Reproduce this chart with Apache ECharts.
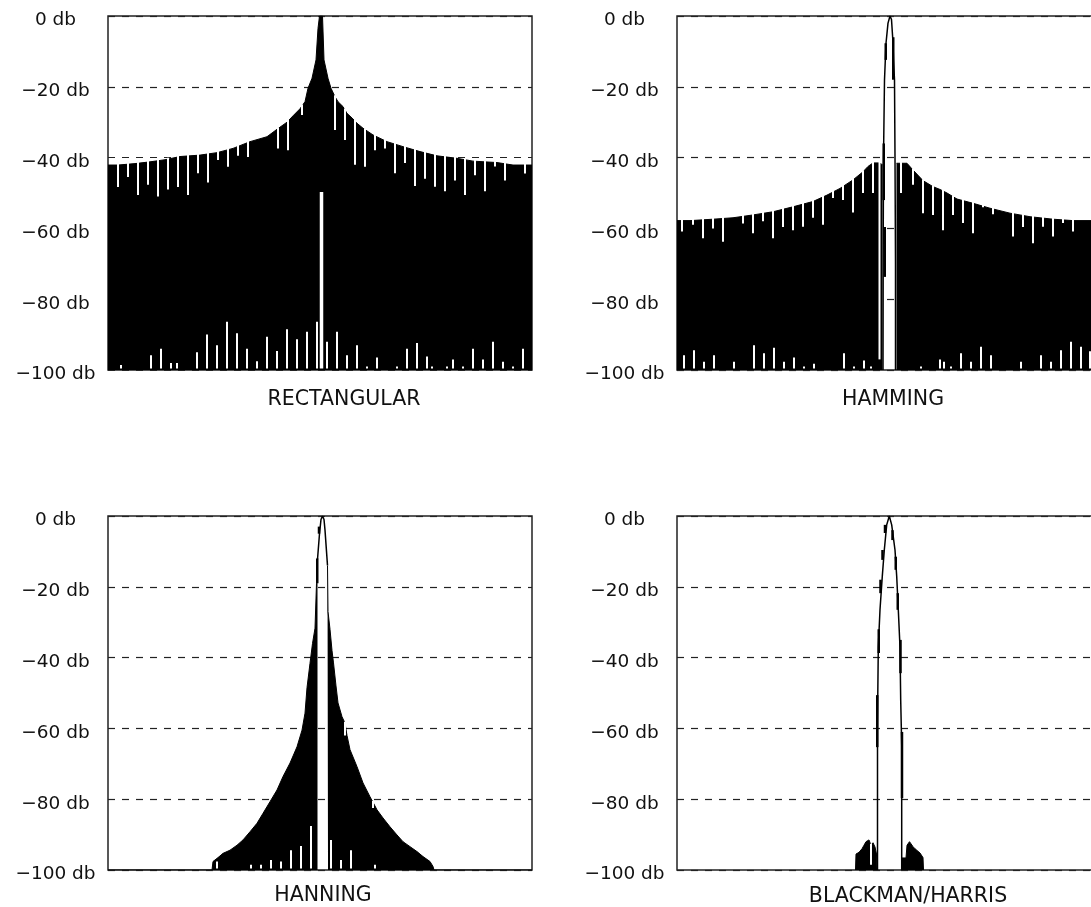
<!DOCTYPE html>
<html><head><meta charset="utf-8">
<script src="https://cdn.jsdelivr.net/npm/echarts@6/dist/echarts.min.js"></script>
<style>html,body{margin:0;padding:0;background:#fff}#c{width:1091px;height:907px}</style>
</head><body><div id="c"></div>
<script>
// ---------- axis / labels ----------
const tickValues = [0, -20, -40, -60, -80, -100];
const tickLabels = ['0 db', '−20 db', '−40 db', '−60 db', '−80 db', '−100 db'];
const panelTitles = ['RECTANGULAR', 'HAMMING', 'HANNING', 'BLACKMAN/HARRIS'];
const binRange = [-42.6, 42.2];   // frequency bins shown

// ---------- RECTANGULAR ----------  [bin, dB]
const rectEnvelope = [[-42.6,-42.1],[-40.6,-42.1],[-37.2,-41.7],[-34.2,-41.2],[-31.2,-40.6],[-28.2,-39.7],[-24.2,-39.3],[-20.8,-38.6],[-17.6,-37.4],[-14.2,-35.5],[-10.8,-34.1],[-8.8,-32.0],[-6.8,-30.0],[-5.6,-28.2],[-4.2,-26.2],[-3.2,-24.2],[-2.6,-20.4],[-1.8,-17.6],[-1.0,-12.4],[-0.6,-3.5],[-0.3,0],[0.3,0],[0.6,-12.4],[1.4,-17.6],[2.0,-20.4],[2.8,-22.8],[3.4,-24.2],[4.4,-25.6],[5.2,-27.5],[6.2,-28.8],[7.2,-30.3],[8.4,-31.7],[10.4,-33.6],[13.2,-35.5],[16.4,-36.9],[19.8,-38.3],[23.2,-39.5],[27.2,-40.2],[30.4,-41.0],[35.2,-41.4],[38.4,-42.1],[42.2,-42.1]];
const rectUpperNulls = [[-40.6,-48.3],[-38.6,-45.5],[-36.6,-50.6],[-34.6,-47.7],[-32.6,-51.0],[-30.6,-49.0],[-28.6,-48.3],[-26.6,-50.6],[-24.6,-44.4],[-22.6,-47.0],[-20.6,-40.7],[-18.6,-42.6],[-16.6,-39.5],[-14.6,-39.8],[-8.6,-37.4],[-6.6,-37.9],[-3.8,-28.0],[2.8,-32.2],[4.8,-35.0],[6.8,-42.0],[8.8,-42.6],[10.8,-37.9],[12.8,-37.4],[14.8,-44.4],[16.8,-41.5],[18.8,-48.0],[20.8,-46.0],[22.8,-48.2],[24.8,-49.5],[26.8,-46.5],[28.8,-50.6],[30.8,-45.0],[32.8,-49.5],[34.8,-42.5],[36.8,-46.5],[40.8,-44.5]];
const rectLowerNulls = [[-40.0,-98.6],[-34.0,-95.8],[-32.0,-94.0],[-30.0,-98.0],[-28.8,-98.0],[-24.8,-95.0],[-22.8,-90.0],[-20.8,-93.0],[-18.8,-86.4],[-16.8,-89.6],[-14.8,-94.0],[-12.8,-97.5],[-10.8,-90.6],[-8.8,-94.6],[-6.8,-88.5],[-4.8,-91.3],[-2.8,-89.2],[-0.8,-86.4],[1.2,-92.0],[3.2,-89.2],[5.2,-95.8],[7.2,-93.0],[9.2,-99.0],[11.2,-96.5],[15.2,-99.0],[17.2,-94.0],[19.2,-92.4],[21.2,-96.2],[22.2,-99.0],[25.2,-99.0],[26.4,-97.0],[28.4,-99.0],[30.4,-94.0],[32.4,-97.0],[34.4,-92.0],[36.4,-97.7],[38.4,-99.0],[40.4,-94.0]];
const rectCenterNull = [[0.1,-49.7]];

// ---------- HAMMING ----------
const hammingLeft = [[-42.6,-57.8],[-40.0,-57.8],[-35.4,-57.4],[-31.4,-57.0],[-27.4,-56.2],[-23.4,-55.3],[-19.4,-53.9],[-15.4,-52.4],[-12.6,-50.6],[-10.0,-48.7],[-7.4,-46.3],[-5.4,-44.0],[-4.4,-42.5],[-3.4,-41.5],[-2.2,-41.5],[-1.5,-42.0]];
const hammingMainLobe = [[-1.4,-100],[-1.35,-60],[-1.3,-40],[-1.1,-18],[-0.8,-7.7],[-0.4,-2.0],[0,0],[0.3,-1.0],[0.6,-7.5],[0.7,-12.4],[0.9,-18.0],[1.0,-40.0],[1.1,-70.0],[1.1,-100]];
const hammingRight = [[1.3,-41.6],[3.4,-41.6],[4.6,-43.5],[6.6,-46.5],[8.6,-48.2],[10.0,-49.0],[11.4,-50.0],[13.4,-51.7],[16.6,-52.9],[20.0,-54.3],[24.0,-55.7],[28.0,-56.7],[32.6,-57.4],[36.6,-57.8],[42.2,-57.8]];
const hammingUpperNulls = [[-41.6,-60.9],[-39.4,-59.0],[-37.4,-62.8],[-35.4,-60.0],[-33.4,-63.8],[-29.4,-58.6],[-27.4,-61.4],[-25.4,-58.0],[-23.4,-62.8],[-21.4,-59.6],[-19.4,-60.5],[-17.4,-59.5],[-15.4,-57.0],[-13.4,-59.0],[-11.4,-51.4],[-9.4,-52.0],[-7.4,-55.5],[-5.4,-50.0],[-3.4,-50.0],[-2.1,-97.0],[2.2,-50.0],[4.6,-47.7],[6.6,-55.7],[8.6,-56.2],[10.6,-60.5],[12.6,-56.2],[14.6,-58.5],[16.6,-61.4],[18.6,-54.0],[20.6,-56.0],[24.6,-62.3],[26.6,-59.6],[28.6,-64.2],[30.6,-59.5],[32.6,-62.3],[34.6,-58.5],[36.6,-60.9]];
const hammingLowerNulls = [[-41.2,-95.8],[-39.2,-94.4],[-37.2,-97.7],[-35.2,-95.8],[-31.2,-97.7],[-27.2,-93.0],[-25.2,-95.3],[-23.2,-93.7],[-21.2,-97.7],[-19.2,-96.5],[-17.2,-99.0],[-15.2,-98.2],[-9.2,-95.3],[-7.2,-99.0],[-5.2,-97.3],[-3.8,-99.0],[6.2,-99.0],[10.0,-97.0],[10.8,-97.7],[12.2,-99.0],[14.2,-95.3],[16.2,-97.7],[18.2,-93.4],[20.2,-95.8],[26.2,-97.7],[30.2,-95.8],[32.2,-97.7],[34.2,-94.4],[36.2,-92.0],[38.2,-93.4],[40.0,-94.7]];
const hammingStrokes = [[-1.25,-36,-52],[-1.05,-59.6,-73.7],[0.65,-6,-18],[-0.85,-7.7,-12.4]];

// ---------- HANNING ----------
const hanningLeft = [[-42.6,-100],[-21.8,-100],[-21.6,-97.6],[-20.6,-96.5],[-19.6,-95.3],[-18.2,-94.4],[-16.8,-93.0],[-15.6,-91.5],[-14.2,-89.2],[-12.8,-86.8],[-11.6,-84.0],[-10.2,-80.7],[-8.8,-77.4],[-7.6,-73.6],[-6.2,-69.8],[-4.8,-65.2],[-3.8,-60.5],[-3.2,-55.7],[-2.8,-48.5],[-2.2,-41.6],[-1.7,-36.0],[-1.2,-31.7],[-0.9,-19.0],[-0.7,-12.2]];
const hanningMainLobe = [[-0.7,-12.2],[-0.3,-5.0],[0.0,-1.0],[0.3,0],[0.6,-1.0],[0.8,-4.0],[1.1,-10.0],[1.3,-14.0]];
const hanningRight = [[1.3,-14.0],[1.4,-27.0],[1.8,-32.0],[2.2,-38.0],[2.5,-41.5],[3.0,-48.0],[3.4,-52.8],[4.2,-56.7],[4.8,-58.5],[5.2,-62.0],[5.8,-66.0],[7.2,-70.8],[8.4,-75.4],[9.8,-79.3],[11.2,-83.0],[12.4,-85.3],[13.8,-87.8],[15.2,-90.1],[16.4,-92.0],[17.8,-93.4],[19.2,-94.8],[20.4,-96.2],[21.8,-97.6],[22.4,-99.0],[22.6,-100],[42.2,-100]];
const hanningUpperNulls = [[4.8,-62.0],[10.4,-82.5]];
const hanningLowerNulls = [[-20.8,-97.6],[-14.0,-98.5],[-12.0,-98.5],[-10.0,-97.2],[-8.0,-97.6],[-6.0,-94.4],[-4.0,-93.2],[-2.0,-87.6],[2.0,-91.5],[4.0,-97.2],[6.0,-94.4],[10.8,-98.5]];
const hanningStrokes = [[-0.4,-3,-5],[-0.75,-12,-19]];

// ---------- BLACKMAN/HARRIS ----------
const blackmanMainLobe = [[-2.5,-100],[-2.5,-60],[-2.44,-50],[-2.34,-37],[-2.0,-26.5],[-1.54,-17],[-1.14,-9.6],[-0.66,-2.5],[-0.14,0],[0.34,-2.5],[1.0,-9.6],[1.34,-17],[1.66,-26.5],[2.0,-37],[2.14,-52],[2.34,-65],[2.34,-100]];
const blackmanLeft = [[-6.9,-100],[-6.8,-95.5],[-6.2,-95.0],[-5.6,-94.0],[-5.2,-93.0],[-4.8,-92.0],[-4.2,-91.5],[-3.8,-93.0],[-3.4,-92.3],[-3.0,-93.5],[-2.7,-95.5],[-2.6,-100]];
const blackmanRight = [[2.4,-100],[2.4,-96.6],[3.2,-96.6],[3.4,-93.0],[3.9,-92.0],[4.2,-92.3],[4.6,-93.4],[5.0,-94.0],[5.4,-94.4],[6.0,-95.2],[6.6,-96.5],[6.7,-100]];
const blackmanUpperNulls = [[-3.8,-98.5]];
const blackmanStrokes = [[-1.0,-2.5,-4.8],[-1.5,-9.6,-12.4],[-1.9,-18,-21.8],[-2.25,-32,-38.7],[-2.55,-50.6,-65.3],[0.5,-4,-6.8],[1.15,-11.5,-15.2],[1.55,-21.8,-26.5],[2.1,-35,-44.4],[2.4,-61,-79.7]];

// ---------- layout (pixels) ----------
const grids = [
  {left:108, top:16,  width:424, height:354},
  {left:677, top:16,  width:424, height:354},
  {left:108, top:516, width:424, height:354},
  {left:677, top:516, width:424, height:354}
];
const titlePos = [[344,399.5],[893,400],[323,895.5],[908,896.5]];

// ---------- helpers ----------
function envAt(pts, b){
  for (let i=0;i<pts.length-1;i++){
    const a=pts[i], c=pts[i+1];
    if (b>=a[0] && b<=c[0]){
      if (c[0]===a[0]) return Math.max(a[1],c[1]);
      return a[1]+(c[1]-a[1])*(b-a[0])/(c[0]-a[0]);
    }
  }
  return -100;
}
function upperSegs(env, nulls){ return nulls.map(n=>[n[0], envAt(env,n[0])+0.4, n[1]]); }
function lowerSegs(nulls){ return nulls.map(n=>[n[0], -99.6, n[1]]); }
function areaSeries(gi, data){
  return {type:'line', xAxisIndex:gi, yAxisIndex:gi, data, symbol:'none', showSymbol:false,
    lineStyle:{color:'#000', width:1}, areaStyle:{color:'#000', opacity:1, origin:'start'},
    z:3, silent:true, animation:false};
}
function lobeSeries(gi, data){
  return {type:'line', xAxisIndex:gi, yAxisIndex:gi, data, symbol:'none', showSymbol:false,
    lineStyle:{color:'#000', width:1.5}, z:6, silent:true, animation:false};
}
function segSeries(gi, data, color, width, z){
  return {type:'custom', xAxisIndex:gi, yAxisIndex:gi, z, clip:true, silent:true, animation:false,
    data,
    renderItem(params, api){
      const p1=api.coord([api.value(0),api.value(1)]);
      const p2=api.coord([api.value(0),api.value(2)]);
      return {type:'line', shape:{x1:p1[0],y1:p1[1],x2:p2[0],y2:p2[1]},
        style:{stroke:color, lineWidth:width, lineCap:'butt'}};
    }};
}

const rectAll = rectEnvelope;
const hammingAll = hammingLeft.concat(hammingRight);
const hanningAll = hanningLeft.concat(hanningRight);
const blackmanAll = blackmanLeft.concat(blackmanRight);

const series = [
  // Rectangular
  areaSeries(0, rectEnvelope),
  segSeries(0, upperSegs(rectAll, rectUpperNulls), '#fff', 2, 4),
  segSeries(0, lowerSegs(rectLowerNulls), '#fff', 2, 4),
  segSeries(0, lowerSegs(rectCenterNull), '#fff', 3.5, 4),
  // Hamming
  areaSeries(1, hammingLeft), areaSeries(1, hammingRight),
  segSeries(1, upperSegs(hammingAll, hammingUpperNulls), '#fff', 2, 4),
  segSeries(1, lowerSegs(hammingLowerNulls), '#fff', 2, 4),
  lobeSeries(1, hammingMainLobe),
  segSeries(1, hammingStrokes, '#000', 2.5, 7),
  // Hanning
  areaSeries(2, hanningLeft), areaSeries(2, hanningRight),
  segSeries(2, upperSegs(hanningAll, hanningUpperNulls), '#fff', 2, 4),
  segSeries(2, lowerSegs(hanningLowerNulls), '#fff', 2, 4),
  lobeSeries(2, hanningMainLobe),
  segSeries(2, hanningStrokes, '#000', 2.5, 7),
  // Blackman/Harris
  areaSeries(3, blackmanLeft), areaSeries(3, blackmanRight),
  segSeries(3, upperSegs(blackmanAll, blackmanUpperNulls), '#fff', 2, 4),
  lobeSeries(3, blackmanMainLobe),
  segSeries(3, blackmanStrokes, '#000', 2.5, 7)
];

const chart = echarts.init(document.getElementById('c'), null, {renderer:'canvas'});
chart.setOption({
  animation:false,
  backgroundColor:'#fff',
  grid: grids.map(g=>Object.assign({show:true, borderColor:'#222', borderWidth:1.5,
    backgroundColor:'transparent', containLabel:false, outerBoundsMode:'none'}, g)),
  xAxis: grids.map((g,i)=>({type:'value', gridIndex:i, min:binRange[0], max:binRange[1],
    axisLine:{show:false}, axisTick:{show:false}, axisLabel:{show:false}, splitLine:{show:false}})),
  yAxis: grids.map((g,i)=>({type:'value', gridIndex:i, min:-100, max:0, interval:20,
    axisLine:{show:false}, axisTick:{show:false},
    axisLabel:{margin:52.5, align:'center', verticalAlign:'top', lineHeight:9,
      fontFamily:'DejaVu Sans', fontSize:18.5, color:'#111',
      formatter:v=>{const k=tickValues.indexOf(Math.round(v)); return k>=0?tickLabels[k]:'';}},
    splitLine:{show:true, lineStyle:{type:[7,7], color:'#222', width:1.2}}})),
  graphic: panelTitles.map((t,i)=>({type:'text', x:titlePos[i][0], y:titlePos[i][1], silent:true,
    style:{text:t, font:'20.5px "DejaVu Sans"', fill:'#111', align:'center', verticalAlign:'middle'}})),
  series
});
</script></body></html>
